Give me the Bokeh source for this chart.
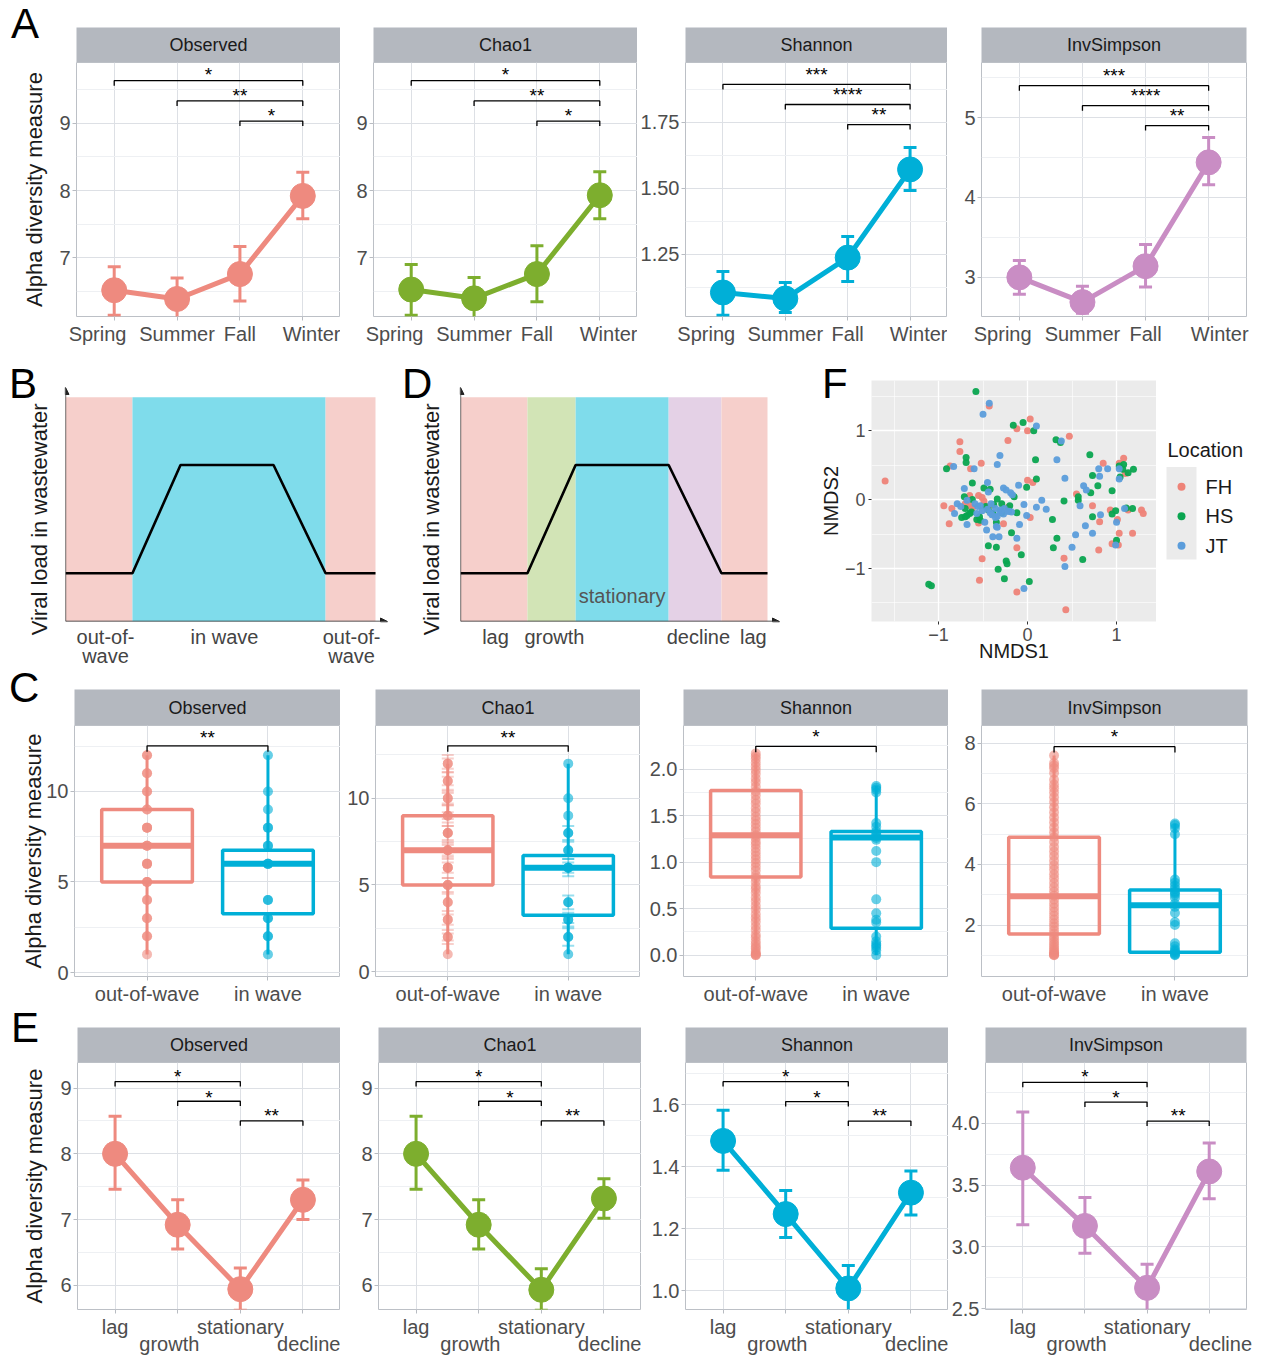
from bokeh.plotting import figure
from bokeh.layouts import row, column
from bokeh.models import Range1d, FixedTicker, NumeralTickFormatter, Arrow, NormalHead, Div
from bokeh.embed import file_html
from bokeh.resources import INLINE
from bokeh.core.properties import value

FONT = "Liberation Sans"
STRIP_FILL = "#B4B8BF"
GRID_MAJOR = "#DDE0E5"
GRID_MINOR = "#EEF0F3"
BORDER = "#BCC0C6"
TICK_TEXT = "#4D4D4D"
TICK_LINE = "#B8BCC2"
NB = "\u00a0"

# ---------------- categories ----------------
metrics = ["Observed", "Chao1", "Shannon", "InvSimpson"]
metric_colors = ["#EE8A7F", "#7DAE2E", "#00AFD7", "#C98DC4"]
seasons = ["Spring", "Summer", "Fall", "Winter"]
phases = ["lag", "growth", "stationary", "decline"]
wave_groups = ["out-of-wave", "in wave"]
wave_colors = ["#EE8A7F", "#00AFD7"]
locations = ["FH", "HS", "JT"]
location_colors = ["#EE8378", "#0AA550", "#5B9DDB"]
panel_letters = ["A", "B", "C", "D", "E", "F"]

# ---------------- A: alpha diversity by season ----------------
observed_season_mean = [6.52, 6.39, 6.76, 7.92]
observed_season_lower = [6.15, 6.08, 6.36, 7.58]
observed_season_upper = [6.87, 6.70, 7.17, 8.27]
chao1_season_mean = [6.53, 6.40, 6.76, 7.93]
chao1_season_lower = [6.15, 6.09, 6.35, 7.58]
chao1_season_upper = [6.90, 6.71, 7.18, 8.28]
shannon_season_mean = [1.106, 1.083, 1.238, 1.572]
shannon_season_lower = [1.020, 1.030, 1.148, 1.492]
shannon_season_upper = [1.185, 1.144, 1.318, 1.655]
invsimpson_season_mean = [3.00, 2.69, 3.14, 4.44]
invsimpson_season_lower = [2.79, 2.55, 2.88, 4.16]
invsimpson_season_upper = [3.21, 2.89, 3.41, 4.75]

season_pairs = [("Spring", "Winter"), ("Summer", "Winter"), ("Fall", "Winter")]
observed_season_sig = ["*", "**", "*"]
chao1_season_sig = ["*", "**", "*"]
shannon_season_sig = ["***", "****", "**"]
invsimpson_season_sig = ["***", "****", "**"]
observed_season_bracket = [9.63, 9.33, 9.03]
observed_season_label = [9.79, 9.49, 9.19]
chao1_season_bracket = [9.63, 9.33, 9.03]
chao1_season_label = [9.79, 9.49, 9.19]
shannon_season_bracket = [1.894, 1.818, 1.742]
shannon_season_label = [1.951, 1.875, 1.799]
invsimpson_season_bracket = [5.40, 5.15, 4.90]
invsimpson_season_label = [5.59, 5.34, 5.09]

# ---------------- B / D: schematic viral load ----------------
b_band_edges = [0, 21.6, 83.9, 100]
b_band_names = ["out-of-wave", "in wave", "out-of-wave"]
b_band_colors = ["#F6CFCB", "#7FDCEB", "#F6CFCB"]
b_load_x = [0, 21.6, 37.1, 67.1, 83.9, 100]
b_load_y = [21.5, 21.5, 69.8, 69.8, 21.5, 21.5]
b_label_text = ["out-of-\nwave", "in wave", "out-of-\nwave"]
b_label_x = [12.9, 51.3, 92.3]

d_band_edges = [0, 21.8, 37.5, 67.8, 85.0, 100]
d_band_names = ["lag", "growth", "stationary", "decline", "lag"]
d_band_colors = ["#F6CFCB", "#D2E4B6", "#7FDCEB", "#E4D1E6", "#F6CFCB"]
d_load_x = [0, 21.8, 37.5, 67.8, 85.0, 100]
d_load_y = [21.5, 21.5, 69.8, 69.8, 21.5, 21.5]
d_label_text = ["lag", "growth", "decline", "lag"]
d_label_x = [11.4, 30.6, 77.5, 95.4]

# ---------------- C: out-of-wave vs in wave ----------------
observed_wave_q1 = [5.0, 3.25]
observed_wave_median = [7.0, 6.0]
observed_wave_q3 = [9.0, 6.75]
observed_wave_low = [1.0, 1.0]
observed_wave_high = [12.0, 12.0]
observed_out_points = [1, 2, 2, 3, 3, 4, 4, 5, 5, 5, 6, 6, 6, 7, 7, 7, 8, 8, 8, 9, 9, 10, 10, 11, 11, 12, 12]
observed_in_points = [1, 2, 2, 3, 3, 4, 4, 6, 6, 6, 7, 7, 8, 8, 9, 10, 12]

chao1_wave_q1 = [5.0, 3.25]
chao1_wave_median = [7.0, 6.0]
chao1_wave_q3 = [9.0, 6.7]
chao1_wave_low = [1.0, 1.0]
chao1_wave_high = [12.0, 12.0]
chao1_out_points = [1, 2, 2, 3, 3, 4, 4, 5, 5, 5, 6, 6, 6, 7, 7, 7, 8, 8, 8, 9, 9, 10, 10, 11, 11, 12, 12]
chao1_out_se = [0, 0.4, 0.2, 0, 0.3, 0.5, 0, 0.4, 0, 0, 0.6, 0, 0.3, 0.5, 0, 0.3, 0.6, 0, 0.4, 0.6, 0.2, 0.4, 0.3, 0.5, 0.25, 0.5, 0.3]
chao1_in_points = [1, 2, 2, 3, 3, 4, 4, 6, 6, 6, 7, 7, 8, 8, 9, 10, 12]
chao1_in_se = [0, 0.5, 0, 0.4, 0.2, 0.4, 0, 0.5, 0, 0.3, 0.5, 0, 0.4, 0, 0, 0, 0]

shannon_wave_q1 = [0.84, 0.29]
shannon_wave_median = [1.29, 1.265]
shannon_wave_q3 = [1.77, 1.33]
shannon_wave_low = [0.0, 0.0]
shannon_wave_high = [2.17, 1.82]
shannon_out_points = [0.00, 0.00, 0.01, 0.02, 0.04, 0.07, 0.09, 0.12, 0.15, 0.19, 0.22, 0.27, 0.31, 0.36,
                      0.40, 0.44, 0.49, 0.53, 0.58, 0.62, 0.67, 0.71, 0.74, 0.79, 0.83, 0.86, 0.91, 0.95,
                      0.99, 1.03, 1.07, 1.11, 1.15, 1.19, 1.22, 1.26, 1.29, 1.33, 1.37, 1.41, 1.45, 1.49,
                      1.54, 1.58, 1.63, 1.67, 1.72, 1.76, 1.81, 1.86, 1.90, 1.95, 1.99, 2.03, 2.07, 2.11,
                      2.14, 2.17]
shannon_in_points = [0.00, 0.05, 0.08, 0.10, 0.12, 0.15, 0.20, 0.35, 0.38, 0.45, 0.60, 1.00, 1.12, 1.24,
                     1.26, 1.28, 1.30, 1.33, 1.38, 1.42, 1.75, 1.78, 1.80, 1.82]

invsimpson_wave_q1 = [1.70, 1.10]
invsimpson_wave_median = [2.95, 2.65]
invsimpson_wave_q3 = [4.90, 3.16]
invsimpson_wave_low = [1.0, 1.0]
invsimpson_wave_high = [7.6, 5.35]
invsimpson_out_points = [1.00, 1.01, 1.03, 1.06, 1.10, 1.15, 1.21, 1.28, 1.36, 1.44, 1.53, 1.62, 1.72, 1.83,
                         1.95, 2.06, 2.18, 2.31, 2.44, 2.57, 2.70, 2.84, 2.97, 3.11, 3.25, 3.39, 3.54, 3.68,
                         3.83, 3.97, 4.12, 4.28, 4.43, 4.58, 4.74, 4.90, 5.06, 5.22, 5.39, 5.55, 5.72, 5.89,
                         6.06, 6.22, 6.38, 6.52, 6.64, 6.80, 7.02, 7.18, 7.27, 7.35, 7.60]
invsimpson_in_points = [1.00, 1.02, 1.05, 1.10, 1.15, 1.20, 1.30, 1.40, 2.00, 2.10, 2.40, 2.60, 2.70, 2.90,
                        3.00, 3.05, 3.10, 3.20, 3.30, 3.40, 3.50, 5.00, 5.20, 5.30, 5.35]

wave_pair = [("out-of-wave", "in wave")]
observed_wave_sig, observed_wave_bracket, observed_wave_label = ["**"], [12.52], [13.28]
chao1_wave_sig, chao1_wave_bracket, chao1_wave_label = ["**"], [13.03], [13.82]
shannon_wave_sig, shannon_wave_bracket, shannon_wave_label = ["*"], [2.246], [2.405]
invsimpson_wave_sig, invsimpson_wave_bracket, invsimpson_wave_label = ["*"], [7.89], [8.38]

# ---------------- E: by wave phase ----------------
observed_phase_mean = [8.00, 6.92, 5.94, 7.30]
observed_phase_lower = [7.46, 6.55, 5.62, 7.00]
observed_phase_upper = [8.57, 7.30, 6.26, 7.60]
chao1_phase_mean = [8.00, 6.92, 5.93, 7.32]
chao1_phase_lower = [7.46, 6.55, 5.62, 7.02]
chao1_phase_upper = [8.57, 7.30, 6.25, 7.62]
shannon_phase_mean = [1.484, 1.248, 1.008, 1.317]
shannon_phase_lower = [1.389, 1.172, 0.930, 1.245]
shannon_phase_upper = [1.583, 1.324, 1.082, 1.387]
invsimpson_phase_mean = [3.64, 3.17, 2.67, 3.61]
invsimpson_phase_lower = [3.18, 2.95, 2.47, 3.39]
invsimpson_phase_upper = [4.09, 3.40, 2.86, 3.84]

phase_pairs = [("lag", "stationary"), ("growth", "stationary"), ("stationary", "decline")]
phase_sig = ["*", "*", "**"]
observed_phase_bracket = [9.10, 8.80, 8.50]
observed_phase_label = [9.26, 8.94, 8.66]
chao1_phase_bracket = [9.10, 8.80, 8.50]
chao1_phase_label = [9.26, 8.94, 8.66]
shannon_phase_bracket = [1.675, 1.611, 1.548]
shannon_phase_label = [1.708, 1.640, 1.582]
invsimpson_phase_bracket = [4.33, 4.17, 4.016]
invsimpson_phase_label = [4.416, 4.245, 4.10]

# ---------------- F: NMDS ordination ----------------
fh_nmds1 = [-0.43, -0.12, 0.03, 0.00, -0.76, -0.76, -0.22, 0.47, -0.52, -0.87, -0.64, -1.60, 0.00, 0.06,
            -0.65, -0.55, -0.51, -0.94, -0.85, -0.64, -0.62, -0.88, -0.55, -0.27, -0.22, 0.03, -0.12, -0.51,
            0.41, -0.54, -0.12, 0.43, 0.55, 0.73, 0.81, 0.80, 0.85, 1.08, 1.03, 1.10, 0.93, 1.13, 1.28, 1.30,
            1.01, 1.03, 1.18, 0.95, 1.02, -0.70, -0.49, -0.44]
fh_nmds2 = [1.36, 1.03, 1.17, 1.00, 0.84, 0.70, 0.86, 0.92, 0.53, 0.49, 0.45, 0.27, 0.28, 0.25,
            0.06, 0.06, 0.03, -0.09, -0.13, -0.09, -0.12, -0.35, -0.34, -0.35, -0.11, -0.26, -0.70, -0.86,
            -0.85, -1.17, -1.34, -1.60, 0.08, -0.09, -0.32, -0.73, 0.53, 0.60, 0.53, 0.38, -0.15, -0.15, -0.15, -0.20,
            -0.29, -0.49, -0.49, -0.64, -0.66, -0.06, -0.02, -0.10]
hs_nmds1 = [-0.58, -0.16, -0.05, 0.07, 0.32, 0.37, -0.69, -0.69, 0.09, 0.70, -0.91, -0.62, 0.10, -0.49,
            -0.42, -0.01, -0.15, -0.71, -0.70, -0.74, -0.62, -0.47, -0.68, -0.63, -0.53, -0.34, -0.29, -0.38,
            -0.29, -0.35, -0.20, -0.12, 0.28, -0.18, -0.44, -0.35, 0.33, 0.29, -0.07, -0.24, -0.23, -0.33,
            -0.26, 0.02, -1.11, -1.08, 0.62, 0.57, 0.57, 0.71, 0.73, 0.79, 0.73, 0.41, 1.03, 1.08, 1.19,
            1.07, 1.13, 1.04, 0.95, 0.99, 0.95, 1.11, 1.18, 1.00, -0.65, -0.70, -0.44, -0.39, -0.57, -0.54]
hs_nmds2 = [1.57, 1.08, 1.12, 1.00, 0.87, 0.83, 0.61, 0.54, 0.58, 0.65, 0.45, 0.24, 0.30, 0.17,
            0.15, 0.18, 0.04, 0.04, -0.13, -0.26, 0.00, -0.10, -0.23, -0.18, -0.30, 0.01, -0.06, -0.07,
            -0.19, -0.33, -0.09, -0.19, -0.29, -0.48, -0.67, -0.69, -0.56, -0.70, -0.80, -0.89, -0.93, -1.01,
            -1.15, -1.19, -1.23, -1.25, -0.87, 0.04, -0.01, 0.10, -0.25, 0.20, 0.35, -0.02, 0.49, 0.51, 0.44,
            0.44, 0.39, 0.33, 0.13, -0.16, -0.21, -0.12, -0.13, -0.59, -0.20, -0.25, -0.15, -0.20, -0.29, -0.25]
jt_nmds1 = [-0.43, -0.50, 0.10, 0.38, -0.31, 0.33, -0.83, -0.60, -0.34, 0.42, -0.10, -0.27, -0.71, -0.24,
            -0.19, -0.44, -0.79, -0.82, -0.68, -0.53, -0.68, -0.57, -0.46, -0.36, -0.42, -0.34, -0.31, -0.27,
            -0.34, -0.21, -0.18, -0.04, -0.01, -0.09, 0.10, 0.16, 0.21, -0.39, -0.32, -0.12, 0.42, -0.04,
            0.54, 0.65, 0.73, 0.63, 0.66, 0.81, 0.90, 0.80, 0.82, 0.59, 0.50, 1.03, 1.03, 1.09, 1.00, 0.99,
            -0.45, -0.17, -0.75, -0.59, -0.56, -0.51, -0.41, -0.45, -0.30, -0.26, -0.22, -0.40, -0.36, -0.48, -0.35]
jt_nmds2 = [1.40, 1.24, 1.07, 0.85, 0.64, 0.58, 0.48, 0.45, 0.51, 0.31, 0.21, 0.17, 0.16, 0.14,
            0.10, 0.11, -0.06, -0.20, -0.01, -0.09, -0.36, -0.20, -0.44, -0.13, -0.19, -0.24, -0.18, -0.21,
            -0.40, -0.17, -0.18, -0.07, -0.23, -0.36, -0.11, -0.01, -0.14, -0.54, -0.54, -0.56, -0.97, -1.29,
            -0.51, -0.38, -0.49, 0.20, 0.14, 0.34, 0.45, 0.45, -0.22, -0.09, -0.69, 0.45, 0.30, -0.13, -0.33, -0.66,
            0.25, 0.07, -0.10, -0.06, -0.10, -0.16, -0.06, -0.14, -0.15, -0.13, -0.17, -0.22, -0.26, -0.33, -0.39]


# ================= helpers =================
def new_fig(left, frame_w, right, top, frame_h, bottom, xr, yr, xloc="below", yloc="left"):
    return figure(width=left + frame_w + right, height=top + frame_h + bottom,
                  x_range=xr, y_range=yr, x_axis_location=xloc, y_axis_location=yloc,
                  output_backend="svg", toolbar_location=None,
                  min_border_left=left, min_border_right=right,
                  min_border_top=top, min_border_bottom=bottom,
                  background_fill_color="white", border_fill_color="white")


def strip(title, left, frame_w, right, top, frame_h):
    p = new_fig(left, frame_w, right, top, frame_h, 0, Range1d(0, 1), Range1d(0, 1), None, None)
    p.background_fill_color = STRIP_FILL
    p.outline_line_color = None
    p.grid.grid_line_color = None
    p.grid.minor_grid_line_color = None
    p.grid.visible = False
    p.text(x=[0.5], y=[0.5], text=[title], text_align="center", text_baseline="middle",
           text_font=value(FONT), text_font_size="18px", text_color="#1A1A1A")
    return p


def style_axes(p, yticks, yminor, yfmt, xlabels, ylabel=None, ylabel_standoff=8, stagger=False):
    p.outline_line_color = BORDER
    p.outline_line_width = 1
    yt = FixedTicker(ticks=yticks, minor_ticks=yminor)
    p.yaxis.ticker = yt
    p.ygrid.ticker = yt
    p.yaxis.formatter = NumeralTickFormatter(format=yfmt)
    xticks = list(range(1, len(xlabels) + 1))
    xt = FixedTicker(ticks=xticks)
    p.xaxis.ticker = xt
    p.xgrid.ticker = xt
    over = {}
    for i, lab in zip(xticks, xlabels):
        over[i] = ("\n" + lab) if (stagger and i % 2 == 0) else lab
    p.xaxis.major_label_overrides = over
    p.xgrid.grid_line_color = GRID_MAJOR
    p.ygrid.grid_line_color = GRID_MAJOR
    p.ygrid.minor_grid_line_color = GRID_MINOR
    for ax in list(p.xaxis) + list(p.yaxis):
        ax.axis_line_color = None
        ax.major_tick_line_color = TICK_LINE
        ax.major_tick_out = 4
        ax.major_tick_in = 0
        ax.minor_tick_line_color = None
        ax.major_label_text_font = FONT
        ax.major_label_text_font_size = "20px"
        ax.major_label_text_color = TICK_TEXT
        ax.major_label_standoff = 2
    if stagger:
        p.xaxis.major_label_text_line_height = 0.78
    if ylabel:
        p.yaxis.axis_label = ylabel
        p.yaxis.axis_label_text_font = FONT
        p.yaxis.axis_label_text_font_size = "22px"
        p.yaxis.axis_label_text_font_style = "normal"
        p.yaxis.axis_label_text_color = "#1A1A1A"
        p.yaxis.axis_label_standoff = ylabel_standoff


def add_brackets(p, cats, pairs, bracket_y, label_y, sig, tip):
    xs, ys, lx = [], [], []
    for (a, b), yb in zip(pairs, bracket_y):
        xa, xb = cats.index(a) + 1, cats.index(b) + 1
        xs.append([xa, xa, xb, xb])
        ys.append([yb - tip, yb, yb, yb - tip])
        lx.append((xa + xb) / 2)
    p.multi_line(xs=xs, ys=ys, line_color="black", line_width=1.3)
    p.text(x=lx, y=label_y, text=sig, text_align="center", text_baseline="alphabetic",
           y_offset=5, text_font=value(FONT), text_font_size="19px", text_color="black")


def line_panel(cats, labels, mean, lower, upper, color, yr, yticks, yminor, yfmt, pairs, sig, bracket_y, label_y,
               left, frame_w, right, frame_h, bottom, ylabel=None, ylabel_standoff=8, stagger=False):
    n = len(cats)
    p = new_fig(left, frame_w, right, 0, frame_h, bottom, Range1d(0.4, n + 0.6), Range1d(*yr))
    style_axes(p, yticks, yminor, yfmt, labels, ylabel, ylabel_standoff, stagger)
    x = [cats.index(c) + 1 for c in cats]
    cap = 6.5 * (n + 0.2) / frame_w
    p.line(x, mean, line_color=color, line_width=5)
    p.segment(x0=x, y0=lower, x1=x, y1=upper, line_color=color, line_width=3)
    p.segment(x0=[v - cap for v in x], y0=upper, x1=[v + cap for v in x], y1=upper, line_color=color, line_width=3)
    p.segment(x0=[v - cap for v in x], y0=lower, x1=[v + cap for v in x], y1=lower, line_color=color, line_width=3)
    p.scatter(x, mean, size=25, marker="circle", fill_color=color, line_color=color)
    tip = 5 * (yr[1] - yr[0]) / frame_h
    add_brackets(p, cats, pairs, bracket_y, label_y, sig, tip)
    return p


def box_panel(q1, med, q3, low, high, pts_out, pts_in, yr, yticks, yminor, yfmt, sig, bracket_y, label_y,
              left, frame_w, right, frame_h, bottom, ylabel=None, ylabel_standoff=8, se_out=None, se_in=None):
    n = len(wave_groups)
    p = new_fig(left, frame_w, right, 0, frame_h, bottom, Range1d(0.4, n + 0.6), Range1d(*yr))
    style_axes(p, yticks, yminor, yfmt, wave_groups, ylabel, ylabel_standoff)
    x = [wave_groups.index(g) + 1 for g in wave_groups]
    half = 0.375
    p.segment(x0=x, y0=q3, x1=x, y1=high, line_color=wave_colors, line_width=3)
    p.segment(x0=x, y0=q1, x1=x, y1=low, line_color=wave_colors, line_width=3)
    cap = 6 * (n + 0.2) / frame_w
    for gi, (pts, se) in enumerate([(pts_out, se_out), (pts_in, se_in)]):
        xv = x[gi]
        c = wave_colors[gi]
        p.scatter([xv] * len(pts), pts, size=10, marker="circle", fill_color=c, line_color=None, fill_alpha=0.6)
        if se is not None:
            sel = [(v, s) for v, s in zip(pts, se) if s > 0]
            lo = [v - s for v, s in sel]
            hi = [v + s for v, s in sel]
            p.segment(x0=[xv] * len(sel), y0=lo, x1=[xv] * len(sel), y1=hi, line_color=c, line_width=2, line_alpha=0.4)
            p.segment(x0=[xv - cap] * len(sel), y0=hi, x1=[xv + cap] * len(sel), y1=hi, line_color=c, line_width=2, line_alpha=0.4)
            p.segment(x0=[xv - cap] * len(sel), y0=lo, x1=[xv + cap] * len(sel), y1=lo, line_color=c, line_width=2, line_alpha=0.4)
    p.quad(left=[v - half for v in x], right=[v + half for v in x], bottom=q1, top=q3,
           fill_alpha=0, line_color=wave_colors, line_width=3.5)
    p.segment(x0=[v - half for v in x], y0=med, x1=[v + half for v in x], y1=med, line_color=wave_colors, line_width=6)
    tip = 6 * (yr[1] - yr[0]) / frame_h
    add_brackets(p, wave_groups, wave_pair, bracket_y, label_y, sig, tip)
    return p


# tick labels nudged like the reference (non-breaking spaces only move the visible word)
season_labels = [seasons[0] + NB * 6, seasons[1], seasons[2], NB * 4 + seasons[3]]
phase_labels = [phases[0], phases[1] + NB * 3, phases[2], NB * 4 + phases[3]]

# ================= Row A =================
A_h = dict(strip_top=27, strip_h=35, frame_h=254, bottom=42)
A_cols = [(76, 264, 0), (33, 264, 0), (46, 264, 0), (34, 265, 15)]
A_data = [
    (observed_season_mean, observed_season_lower, observed_season_upper, (6.13, 9.9), [7, 8, 9], [6.5, 7.5, 8.5, 9.5], "0",
     observed_season_sig, observed_season_bracket, observed_season_label),
    (chao1_season_mean, chao1_season_lower, chao1_season_upper, (6.13, 9.9), [7, 8, 9], [6.5, 7.5, 8.5, 9.5], "0",
     chao1_season_sig, chao1_season_bracket, chao1_season_label),
    (shannon_season_mean, shannon_season_lower, shannon_season_upper, (1.015, 1.977), [1.25, 1.5, 1.75],
     [1.125, 1.375, 1.625, 1.875], "0.00", shannon_season_sig, shannon_season_bracket, shannon_season_label),
    (invsimpson_season_mean, invsimpson_season_lower, invsimpson_season_upper, (2.51, 5.69), [3, 4, 5],
     [2.5, 3.5, 4.5, 5.5], "0", invsimpson_season_sig, invsimpson_season_bracket, invsimpson_season_label),
]
rowA_children = []
for i, (m, (l, fw, r), d) in enumerate(zip(metrics, A_cols, A_data)):
    s = strip(m, l, fw, r, A_h["strip_top"], A_h["strip_h"])
    p = line_panel(seasons, season_labels, d[0], d[1], d[2], metric_colors[i], d[3], d[4], d[5], d[6], season_pairs,
                   d[7], d[8], d[9], l, fw, r, A_h["frame_h"], A_h["bottom"],
                   ylabel="Alpha diversity measure" if i == 0 else None, ylabel_standoff=9)
    rowA_children.append(column(s, p))
rowA = row(*rowA_children)

# ================= Row B / D / F =================
B_TOP, B_FRAME, B_BOTTOM = 22, 245, 45


def schematic(edges, colors, load_x, load_y, label_x, label_text, left, frame_w, right, px_per_x, ylabel_standoff):
    xr = Range1d(0, frame_w / px_per_x)
    yr = Range1d(0, 107.5)
    p = new_fig(left, frame_w, right, B_TOP, B_FRAME, B_BOTTOM, xr, yr, "below", "left")
    p.outline_line_color = None
    p.grid.visible = False
    p.quad(left=edges[:-1], right=edges[1:], bottom=0, top=100, fill_color=colors, line_color=None)
    p.line(load_x, load_y, line_color="black", line_width=2.6)
    xmax = (frame_w - 3) / px_per_x
    ymax = 104.4
    for xe, ye in [(xmax, 0), (0, ymax)]:
        p.add_layout(Arrow(end=NormalHead(size=7, fill_color="#222222", line_color="#222222"),
                           x_start=0, y_start=0, x_end=xe, y_end=ye, line_color="#222222", line_width=1.3))
    p.xaxis.ticker = FixedTicker(ticks=label_x)
    p.xaxis.major_label_overrides = {xv: t for xv, t in zip(label_x, label_text)}
    p.xaxis.axis_line_color = None
    p.xaxis.major_tick_line_color = None
    p.xaxis.minor_tick_line_color = None
    p.xaxis.major_tick_out = 0
    p.xaxis.major_label_standoff = 4
    p.xaxis.major_label_text_font = FONT
    p.xaxis.major_label_text_font_size = "20px"
    p.xaxis.major_label_text_color = "#444444"
    p.xaxis.major_label_text_line_height = 0.9
    p.yaxis.ticker = FixedTicker(ticks=[])
    p.yaxis.axis_line_color = None
    p.yaxis.major_tick_line_color = None
    p.yaxis.minor_tick_line_color = None
    p.yaxis.axis_label = "Viral load in wastewater" + NB * 6
    p.yaxis.axis_label_text_font = FONT
    p.yaxis.axis_label_text_font_size = "22px"
    p.yaxis.axis_label_text_font_style = "normal"
    p.yaxis.axis_label_text_color = "#1A1A1A"
    p.yaxis.axis_label_standoff = ylabel_standoff
    return p


pB = schematic(b_band_edges, b_band_colors, b_load_x, b_load_y, b_label_x, b_label_text, 65, 325, 10, 3.1, 14)
pD = schematic(d_band_edges, d_band_colors, d_load_x, d_load_y, d_label_x, d_label_text, 60, 322, 28, 3.07, 17)
st_idx = d_band_names.index("stationary")
pD.text(x=[(d_band_edges[st_idx] + d_band_edges[st_idx + 1]) / 2], y=[11.4], text=["stationary"],
        text_align="center", text_baseline="middle", text_font=value(FONT), text_font_size="20px",
        text_color="#555555")

# F scatter
pF = new_fig(61, 285, 0, B_TOP, B_FRAME, B_BOTTOM, Range1d(-1.753, 1.449), Range1d(-1.77, 1.73))
pF.background_fill_color = "#EBEBEB"
pF.outline_line_color = None
for ax, ticks, minor in [(pF.xaxis, [-1, 0, 1], [-1.5, -0.5, 0.5, 1.5]), (pF.yaxis, [-1, 0, 1], [-1.5, -0.5, 0.5, 1.5])]:
    tk = FixedTicker(ticks=ticks, minor_ticks=minor)
    ax.ticker = tk
    ax.major_label_overrides = {-1: "\u22121", 0: "0", 1: "1"}
    ax.axis_line_color = None
    ax.major_tick_line_color = "#333333"
    ax.major_tick_out = 3
    ax.major_tick_in = 0
    ax.minor_tick_line_color = None
    ax.major_label_text_font = FONT
    ax.major_label_text_font_size = "18px"
    ax.major_label_text_color = TICK_TEXT
    ax.major_label_standoff = 2
    ax.axis_label_text_font = FONT
    ax.axis_label_text_font_size = "20px"
    ax.axis_label_text_font_style = "normal"
    ax.axis_label_text_color = "#1A1A1A"
pF.xgrid.ticker = pF.xaxis[0].ticker
pF.ygrid.ticker = pF.yaxis[0].ticker
pF.xaxis.axis_label = "NMDS1"
pF.yaxis.axis_label = "NMDS2"
pF.xaxis.axis_label_standoff = -4
pF.yaxis.axis_label_standoff = 0
for g in (pF.xgrid, pF.ygrid):
    g.grid_line_color = "white"
    g.grid_line_width = 1.3
    g.minor_grid_line_color = "white"
    g.minor_grid_line_width = 0.6
for xs_, ys_, c in [(fh_nmds1, fh_nmds2, location_colors[0]), (hs_nmds1, hs_nmds2, location_colors[1]),
                    (jt_nmds1, jt_nmds2, location_colors[2])]:
    pF.scatter(xs_, ys_, size=7, marker="circle", fill_color=c, line_color=None, fill_alpha=0.95)

# legend panel for F (coordinates: px from the top of the row)
pL = new_fig(0, 105, 0, B_TOP, B_FRAME, B_BOTTOM, Range1d(0, 105), Range1d(B_TOP + B_FRAME, B_TOP), None, None)
pL.outline_line_color = None
pL.grid.visible = False
key_y = [130 + 30 * i for i in range(len(locations))]
pL.text(x=[11], y=[93], text=["Location"], text_align="left", text_baseline="middle",
        text_font=value(FONT), text_font_size="20px", text_color="#1A1A1A")
pL.quad(left=[10], right=[40], top=[key_y[0] - 20], bottom=[key_y[-1] + 14], fill_color="#EBEBEB", line_color=None)
pL.scatter([25] * len(locations), key_y, size=8, marker="circle", fill_color=location_colors, line_color=None)
pL.text(x=[49] * len(locations), y=key_y, text=locations, text_align="left", text_baseline="middle",
        text_font=value(FONT), text_font_size="20px", text_color="#1A1A1A")

rowB = row(pB, pD, pF, pL)

# ================= Row C =================
C_h = dict(strip_top=19, strip_h=36, frame_h=255, bottom=27)
C_cols = [(74, 266, 0), (35, 265, 0), (43, 265, 0), (33, 266, 14)]
C_data = [
    (observed_wave_q1, observed_wave_median, observed_wave_q3, observed_wave_low, observed_wave_high,
     observed_out_points, observed_in_points, (-0.22, 13.64), [0, 5, 10], [2.5, 7.5, 12.5], "0",
     observed_wave_sig, observed_wave_bracket, observed_wave_label, None, None),
    (chao1_wave_q1, chao1_wave_median, chao1_wave_q3, chao1_wave_low, chao1_wave_high,
     chao1_out_points, chao1_in_points, (-0.28, 14.2), [0, 5, 10], [2.5, 7.5, 12.5], "0",
     chao1_wave_sig, chao1_wave_bracket, chao1_wave_label, chao1_out_se, chao1_in_se),
    (shannon_wave_q1, shannon_wave_median, shannon_wave_q3, shannon_wave_low, shannon_wave_high,
     shannon_out_points, shannon_in_points, (-0.23, 2.47), [0, 0.5, 1, 1.5, 2], [0.25, 0.75, 1.25, 1.75, 2.25], "0.0",
     shannon_wave_sig, shannon_wave_bracket, shannon_wave_label, None, None),
    (invsimpson_wave_q1, invsimpson_wave_median, invsimpson_wave_q3, invsimpson_wave_low, invsimpson_wave_high,
     invsimpson_out_points, invsimpson_in_points, (0.3, 8.59), [2, 4, 6, 8], [1, 3, 5, 7], "0",
     invsimpson_wave_sig, invsimpson_wave_bracket, invsimpson_wave_label, None, None),
]
rowC_children = []
for i, (m, (l, fw, r), d) in enumerate(zip(metrics, C_cols, C_data)):
    s = strip(m, l, fw, r, C_h["strip_top"], C_h["strip_h"])
    p = box_panel(*d[:14], l, fw, r, C_h["frame_h"], C_h["bottom"],
                  ylabel="Alpha diversity measure" if i == 0 else None, ylabel_standoff=-3,
                  se_out=d[14], se_in=d[15])
    rowC_children.append(column(s, p))
rowC = row(*rowC_children)

# ================= Row E =================
E_h = dict(strip_top=20, strip_h=35, frame_h=254, bottom=41)
E_cols = [(77, 263, 0), (38, 263, 0), (44, 263, 0), (37, 261, 15)]
E_data = [
    (observed_phase_mean, observed_phase_lower, observed_phase_upper, (5.63, 9.39), [6, 7, 8, 9], [6.5, 7.5, 8.5], "0",
     observed_phase_bracket, observed_phase_label),
    (chao1_phase_mean, chao1_phase_lower, chao1_phase_upper, (5.63, 9.39), [6, 7, 8, 9], [6.5, 7.5, 8.5], "0",
     chao1_phase_bracket, chao1_phase_label),
    (shannon_phase_mean, shannon_phase_lower, shannon_phase_upper, (0.94, 1.737), [1.0, 1.2, 1.4, 1.6],
     [1.1, 1.3, 1.5, 1.7], "0.0", shannon_phase_bracket, shannon_phase_label),
    (invsimpson_phase_mean, invsimpson_phase_lower, invsimpson_phase_upper, (2.495, 4.49), [2.5, 3.0, 3.5, 4.0],
     [2.75, 3.25, 3.75, 4.25], "0.0", invsimpson_phase_bracket, invsimpson_phase_label),
]
rowE_children = []
for i, (m, (l, fw, r), d) in enumerate(zip(metrics, E_cols, E_data)):
    s = strip(m, l, fw, r, E_h["strip_top"], E_h["strip_h"])
    p = line_panel(phases, phase_labels, d[0], d[1], d[2], metric_colors[i], d[3], d[4], d[5], d[6], phase_pairs,
                   phase_sig, d[7], d[8], l, fw, r, E_h["frame_h"], E_h["bottom"],
                   ylabel="Alpha diversity measure" if i == 0 else None, ylabel_standoff=10, stagger=True)
    rowE_children.append(column(s, p))
rowE = row(*rowE_children)

# ================= panel letters (absolutely placed text over the page) =================
letter_pos = {"A": (11, 3), "B": (9, 363), "C": (9, 667), "D": (402, 363), "E": (11, 1007), "F": (822, 363)}
letter_divs = []
for t in panel_letters:
    lx, ly = letter_pos[t]
    letter_divs.append(Div(text=t, margin=0, width=40, height=46,
                           styles={"position": "absolute", "left": f"{lx}px", "top": f"{ly}px",
                                   "font-family": FONT, "font-size": "42px", "line-height": "1",
                                   "color": "black", "z-index": "10", "pointer-events": "none"}))

layout = column(rowA, rowB, rowC, rowE, *letter_divs)
open("out.html", "w").write(file_html(layout, INLINE))
